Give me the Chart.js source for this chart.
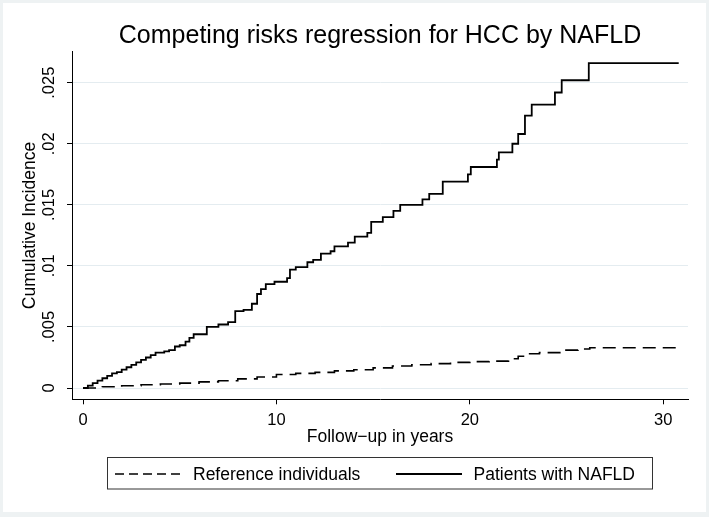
<!DOCTYPE html>
<html>
<head>
<meta charset="utf-8">
<script src="https://cdn.jsdelivr.net/npm/chart.js@4.4.0/dist/chart.umd.min.js"></script>
<style>
  html, body { margin: 0; padding: 0; background: #fff; }
  canvas { display: block; }
</style>
</head>
<body>
<canvas id="cif" width="709" height="517"></canvas>
<script>
// ======================================
// Data
// ======================================
const nafldYears = [0, 0.25, 0.5, 0.75, 1.0, 1.25, 1.5, 1.75, 2.0, 2.25, 2.5, 2.75, 3.0, 3.25, 3.5, 3.75,
  4.2, 4.45, 4.75, 5.0, 5.3, 5.5, 5.72, 6.4, 7.0, 7.5, 7.87, 8.3, 8.73, 9.0, 9.2, 9.45, 9.9,
  10.55, 10.7, 11.0, 11.6, 11.9, 12.3, 12.8, 13.0, 13.7, 14.05, 14.7, 14.9, 15.5, 16.05, 16.4,
  17.55, 17.9, 18.6, 19.9, 20.05, 21.4, 21.5, 22.2, 22.5, 22.85, 23.2, 24.4, 24.75, 26.15, 30.8];
const nafldCI = [0, 0.0002, 0.0004, 0.0006, 0.0008, 0.001, 0.0012, 0.0013, 0.0015, 0.0017, 0.0019, 0.0021, 0.0023, 0.0025, 0.0027, 0.0029,
  0.003, 0.0031, 0.0034, 0.0035, 0.0038, 0.0041, 0.0044, 0.005, 0.0052, 0.0054, 0.0063, 0.0064, 0.0069, 0.0077, 0.0081, 0.0085, 0.0087,
  0.009, 0.0097, 0.0099, 0.0103, 0.0105, 0.011, 0.0112, 0.0116, 0.0119, 0.0124, 0.0127, 0.0136, 0.014, 0.0145, 0.015,
  0.01545, 0.0159, 0.0169, 0.0175, 0.0181, 0.0187, 0.0193, 0.02, 0.0208, 0.0223, 0.0232, 0.0242, 0.0252, 0.0266, 0.0266];

const refYears = [0, 1, 2, 3, 4, 5, 6, 7, 8, 9, 10, 11, 12, 13, 14, 15, 16, 17, 18, 19, 20, 21, 22,
  22.5, 23, 23.6, 24.8, 25.6, 26.2, 30.8];
const refCI = [0, 0.0001, 0.00018, 0.00027, 0.00033, 0.0004, 0.0005, 0.0006, 0.00075, 0.0009, 0.0011, 0.0012,
  0.00128, 0.0014, 0.0015, 0.00165, 0.0018, 0.0019, 0.002, 0.0021, 0.00216, 0.0022, 0.0024,
  0.0026, 0.0028, 0.0029, 0.0031, 0.0032, 0.0033, 0.0033];

const xTicks = [0, 10, 20, 30];
const yTicks = [0, 0.005, 0.01, 0.015, 0.02, 0.025];
const yTickLabels = ['0', '.005', '.01', '.015', '.02', '.025'];

const chartTitle = 'Competing risks regression for HCC by NAFLD';
const xTitle = 'Follow\u2212up in years';
const yTitle = 'Cumulative Incidence';
const legendLabels = ['Reference individuals', 'Patients with NAFLD'];

const FONT = '"Liberation Sans", Arial, Helvetica, sans-serif';

// ======================================
// Frame, title, rotated y labels, boxed legend
// ======================================
const stataDecor = {
  id: 'stataDecor',
  beforeDraw(chart) {
    const ctx = chart.ctx;
    ctx.save();
    ctx.fillStyle = '#eef2f3';
    ctx.fillRect(0, 0, chart.width, chart.height);
    ctx.fillStyle = '#ffffff';
    ctx.fillRect(3, 3, 703, 509);
    ctx.restore();
  },
  afterDraw(chart) {
    const ctx = chart.ctx;
    const ys = chart.scales.y;
    const area = chart.chartArea;
    ctx.save();
    ctx.fillStyle = '#000';
    ctx.textAlign = 'center';
    ctx.textBaseline = 'middle';

    // title, centred over the plot region
    ctx.font = '25px ' + FONT;
    ctx.fillText(chartTitle, (area.left + area.right) / 2, 36);

    // y tick labels, vertical like Stata
    ctx.font = '16.5px ' + FONT;
    yTicks.forEach((v, i) => {
      ctx.save();
      ctx.translate(49.5, ys.getPixelForValue(v));
      ctx.rotate(-Math.PI / 2);
      ctx.fillText(yTickLabels[i], 0, 0);
      ctx.restore();
    });

    // y axis title
    ctx.font = '17.5px ' + FONT;
    ctx.save();
    ctx.translate(30, (area.top + area.bottom) / 2);
    ctx.rotate(-Math.PI / 2);
    ctx.fillText(yTitle, 0, 0);
    ctx.restore();

    // legend box
    const ly = 474;
    ctx.strokeStyle = '#333';
    ctx.lineWidth = 1;
    ctx.strokeRect(107.5, 457.5, 545, 31.5);

    ctx.strokeStyle = '#000';
    ctx.lineWidth = 1.6;
    ctx.setLineDash([9, 5]);
    ctx.beginPath();
    ctx.moveTo(115, ly);
    ctx.lineTo(181, ly);
    ctx.stroke();
    ctx.setLineDash([]);
    ctx.lineWidth = 1.8;
    ctx.beginPath();
    ctx.moveTo(396, ly);
    ctx.lineTo(462, ly);
    ctx.stroke();

    ctx.textAlign = 'left';
    ctx.font = '17.5px ' + FONT;
    ctx.fillText(legendLabels[0], 193, ly + 1);
    ctx.fillText(legendLabels[1], 473.5, ly + 1);
    ctx.restore();
  }
};

const ctx = document.getElementById('cif').getContext('2d');
const chart = new Chart(ctx, {
  type: 'line',
  data: {
    datasets: [
      {
        label: legendLabels[0],
        data: refYears.map((x, i) => ({ x: x, y: refCI[i] })),
        borderColor: '#000',
        borderWidth: 1.6,
        borderDash: [13, 7],
        stepped: true,
        pointRadius: 0,
        fill: false
      },
      {
        label: legendLabels[1],
        data: nafldYears.map((x, i) => ({ x: x, y: nafldCI[i] })),
        borderColor: '#000',
        borderWidth: 1.8,
        stepped: true,
        pointRadius: 0,
        fill: false
      }
    ]
  },
  options: {
    responsive: false,
    animation: false,
    layout: { padding: { left: 0, right: 21, top: 51.7, bottom: 67.7 } },
    plugins: {
      legend: { display: false },
      tooltip: { enabled: false },
      title: { display: false }
    },
    scales: {
      x: {
        type: 'linear',
        min: -0.57,
        max: 31.28,
        afterBuildTicks: s => { s.ticks = xTicks.map(v => ({ value: v })); },
        afterFit: s => { s.height = 50; },
        ticks: {
          color: '#000',
          font: { family: FONT, size: 16.5 },
          padding: 6,
          maxRotation: 0,
          callback: v => String(v)
        },
        grid: { drawOnChartArea: false, drawTicks: true, tickLength: 5, tickColor: '#000' },
        border: { display: true, color: '#000', width: 1 },
        title: {
          display: true,
          text: xTitle,
          color: '#000',
          font: { family: FONT, size: 17.5 },
          padding: { top: 0, bottom: 2 }
        }
      },
      y: {
        type: 'linear',
        min: -0.000925,
        max: 0.02754,
        afterBuildTicks: s => { s.ticks = yTicks.map(v => ({ value: v })); },
        afterFit: s => { s.width = 72; },
        ticks: { display: false },
        grid: { color: '#e4ecf0', lineWidth: 1, drawTicks: true, tickLength: 5, tickColor: '#000' },
        border: { display: true, color: '#000', width: 1 }
      }
    }
  },
  plugins: [stataDecor]
});
</script>
</body>
</html>
